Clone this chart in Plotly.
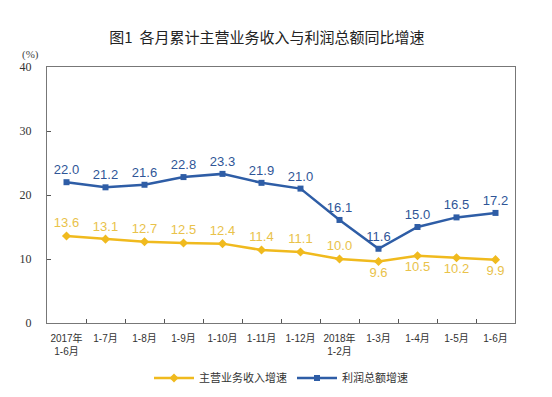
import plotly.graph_objects as go

categories = ["2017年<br>1-6月", "1-7月", "1-8月", "1-9月", "1-10月", "1-11月", "1-12月",
              "2018年<br>1-2月", "1-3月", "1-4月", "1-5月", "1-6月"]
revenue = [13.6, 13.1, 12.7, 12.5, 12.4, 11.4, 11.1, 10.0, 9.6, 10.5, 10.2, 9.9]
profit = [22.0, 21.2, 21.6, 22.8, 23.3, 21.9, 21.0, 16.1, 11.6, 15.0, 16.5, 17.2]
y_ticks = [0, 10, 20, 30, 40]

blue = "#2E5DA6"
yellow = "#F0BA1E"

rev_pos = ["top center"] * 8 + ["bottom center"] * 4

fig = go.Figure()
fig.add_trace(go.Scatter(
    x=categories, y=revenue, name="主营业务收入增速", mode="lines+markers+text",
    line=dict(color=yellow, width=2.5), marker=dict(symbol="diamond", size=7, color=yellow),
    text=[f"{v:.1f}" for v in revenue], textposition=rev_pos,
    textfont=dict(color="#E9C24A", size=13, family="Liberation Sans"),
))
fig.add_trace(go.Scatter(
    x=categories, y=profit, name="利润总额增速", mode="lines+markers+text",
    line=dict(color=blue, width=2.5), marker=dict(symbol="square", size=6, color=blue),
    text=[f"{v:.1f}" for v in profit], textposition="top center",
    textfont=dict(color="#2F5597", size=13, family="Liberation Sans"),
))

fig.update_layout(
    width=552, height=397,
    margin=dict(l=32, r=45, t=59, b=76),
    paper_bgcolor="white", plot_bgcolor="white",
    title=dict(text="图1  各月累计主营业务收入与利润总额同比增速", x=0.469, xanchor="center",
               xref="container",
               y=1 - 30 / 397, yref="container", yanchor="middle",
               font=dict(size=15, color="#222", family="Noto Sans CJK SC")),
    showlegend=True,
    legend=dict(orientation="h", x=0.5, xanchor="center", y=-0.215, yanchor="middle",
                font=dict(size=11, color="#333", family="Noto Sans CJK SC"),
                itemwidth=40),
    xaxis=dict(type="category", tickson="boundaries", ticks="inside", ticklen=4,
               tickcolor="#555", showline=True, linecolor="#777", mirror=True, tickangle=0,
               ticklabelstandoff=6,
               showgrid=False,
               tickfont=dict(size=10, color="#333", family="Liberation Sans, Noto Sans CJK SC"),
               range=[-0.5, 11.5]),
    yaxis=dict(range=[0, 40], tickvals=y_ticks, ticks="inside", ticklen=4, tickcolor="#555",
               showline=True, linecolor="#777", mirror=True, showgrid=False, zeroline=False,
               ticklabelstandoff=12,
               tickfont=dict(size=12, color="#333", family="Liberation Serif")),
)
fig.add_annotation(text="(%)", xref="paper", yref="paper", x=-0.036, y=1.048,
                   showarrow=False, xanchor="center", yanchor="middle",
                   font=dict(size=11, color="#444", family="Liberation Serif"))

fig.write_html("out.html")
